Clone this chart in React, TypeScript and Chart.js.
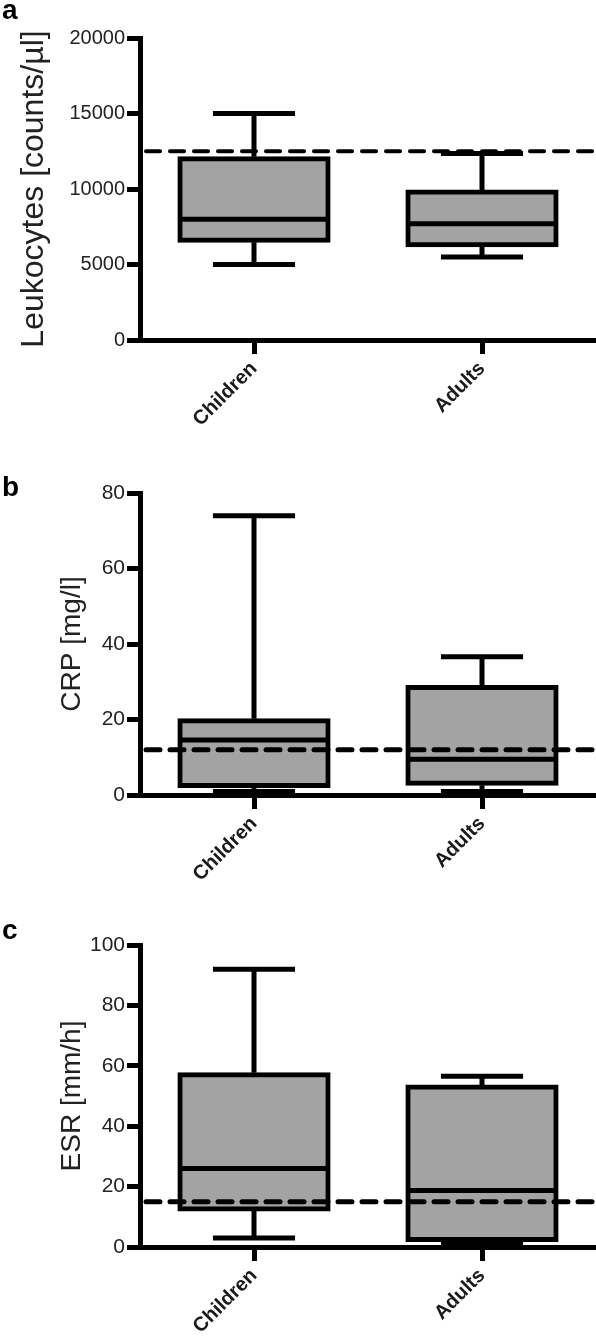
import React, { useEffect, useRef } from 'react';
import { Chart, registerables } from 'chart.js';

Chart.register(...registerables);

const CATEGORIES = ['Children', 'Adults'];

const LEUKO_MIN = [5000, 5500];
const LEUKO_Q1 = [6600, 6300];
const LEUKO_MEDIAN = [8000, 7700];
const LEUKO_Q3 = [12000, 9800];
const LEUKO_MAX = [15000, 12350];
const LEUKO_REF = 12500;
const LEUKO_TICKS = [0, 5000, 10000, 15000, 20000];

const CRP_MIN = [0.9, 0.9];
const CRP_Q1 = [2.5, 3.1];
const CRP_MEDIAN = [14.6, 9.5];
const CRP_Q3 = [19.7, 28.5];
const CRP_MAX = [74, 36.6];
const CRP_REF = 12;
const CRP_TICKS = [0, 20, 40, 60, 80];

const ESR_MIN = [3, 1];
const ESR_Q1 = [12.6, 2.5];
const ESR_MEDIAN = [26, 18.7];
const ESR_Q3 = [57, 53];
const ESR_MAX = [92, 56.5];
const ESR_REF = 15;
const ESR_TICKS = [0, 20, 40, 60, 80, 100];

const FONT = "'Liberation Sans', Arial, Helvetica, sans-serif";

type PanelProps = {
  letter: string;
  top: number;
  height: number;
  areaTop: number;
  title: string;
  titleSize: number;
  titleCenter: number;
  tickSize: number;
  ticks: number[];
  min: number[];
  q1: number[];
  median: number[];
  q3: number[];
  max: number[];
  refValue: number;
  refWidth: number;
};

function Panel(p: PanelProps) {
  const ref = useRef<HTMLCanvasElement | null>(null);
  useEffect(() => {
    if (!ref.current) return;
    const plotH = 302;
    const xAxisH = p.height - p.areaTop - plotH;
    const boxPlugin = {
      id: 'boxWhiskers' + p.letter,
      afterDatasetsDraw(chart: any) {
        const ctx = chart.ctx;
        const xs = chart.scales.x;
        const ys = chart.scales.y;
        const meta = chart.getDatasetMeta(0);
        ctx.save();
        ctx.strokeStyle = '#000';
        ctx.lineWidth = 5;
        ctx.lineCap = 'butt';
        CATEGORIES.forEach((_, i) => {
          const cx = xs.getPixelForValue(i);
          const bw = meta.data[i].width;
          const capHalf = bw * 0.277;
          const yMin = ys.getPixelForValue(p.min[i]);
          const yQ1 = ys.getPixelForValue(p.q1[i]);
          const yMed = ys.getPixelForValue(p.median[i]);
          const yQ3 = ys.getPixelForValue(p.q3[i]);
          const yMax = ys.getPixelForValue(p.max[i]);
          ctx.beginPath();
          ctx.moveTo(cx, yQ3 - 2);
          ctx.lineTo(cx, yMax);
          ctx.moveTo(cx, yQ1 + 2);
          ctx.lineTo(cx, yMin);
          ctx.moveTo(cx - capHalf, yMax);
          ctx.lineTo(cx + capHalf, yMax);
          ctx.moveTo(cx - capHalf, yMin);
          ctx.lineTo(cx + capHalf, yMin);
          ctx.moveTo(cx - bw / 2, yMed);
          ctx.lineTo(cx + bw / 2, yMed);
          ctx.stroke();
        });
        const area = chart.chartArea;
        const yRef = ys.getPixelForValue(p.refValue);
        ctx.lineWidth = p.refWidth;
        ctx.lineCap = 'round';
        ctx.setLineDash([14, 10]);
        ctx.beginPath();
        ctx.moveTo(area.left + 6, yRef);
        ctx.lineTo(area.right, yRef);
        ctx.stroke();
        ctx.restore();
      },
    };
    const chart = new Chart(ref.current, {
      type: 'bar',
      data: {
        labels: CATEGORIES,
        datasets: [
          {
            data: CATEGORIES.map((_, i) => [p.q1[i], p.q3[i]]) as any,
            backgroundColor: '#a3a3a3',
            borderColor: '#000',
            borderWidth: 5,
            borderSkipped: false,
            inflateAmount: 2.5,
            barPercentage: 0.65,
            categoryPercentage: 1,
          } as any,
        ],
      },
      options: {
        responsive: false,
        animation: false,
        devicePixelRatio: 1,
        events: [],
        layout: { padding: { top: p.areaTop, left: 0, right: 0, bottom: 0 } },
        plugins: { legend: { display: false }, tooltip: { enabled: false } },
        scales: {
          x: {
            type: 'category',
            offset: true,
            grid: {
              offset: false,
              display: true,
              drawOnChartArea: false,
              drawTicks: true,
              tickLength: 14,
              tickWidth: 5,
              tickColor: '#000',
              color: '#000',
            },
            border: { display: true, color: '#000', width: 5 },
            ticks: {
              autoSkip: false,
              maxRotation: 45,
              minRotation: 45,
              padding: 3,
              color: '#1a1a1a',
              font: { family: FONT, size: 20, weight: 'bold' },
            },
            afterFit: (s: any) => {
              s.height = xAxisH;
            },
          },
          y: {
            type: 'linear',
            min: 0,
            max: p.ticks[p.ticks.length - 1],
            afterBuildTicks: (s: any) => {
              s.ticks = p.ticks.map((v) => ({ value: v }));
            },
            grid: {
              display: true,
              drawOnChartArea: false,
              drawTicks: true,
              tickLength: 13,
              tickWidth: 5,
              tickColor: '#000',
              color: '#000',
            },
            border: { display: true, color: '#000', width: 5 },
            ticks: {
              padding: 2,
              color: '#222',
              font: { family: FONT, size: p.tickSize },
              callback: (v: any) => String(v),
            },
            title: {
              display: true,
              text: p.title,
              color: '#222',
              font: { family: FONT, size: p.titleSize, lineHeight: 1 },
              padding: { top: p.titleCenter - p.titleSize / 2, bottom: 0 },
            },
            afterFit: (s: any) => {
              s.width = 140;
            },
          },
        },
      } as any,
      plugins: [boxPlugin],
    });
    return () => chart.destroy();
  }, []);
  return (
    <div style={{ position: 'absolute', left: 0, top: p.top, width: 596, height: p.height }}>
      <canvas ref={ref} width={596} height={p.height} style={{ display: 'block' }} />
      <div
        style={{
          position: 'absolute',
          left: 2,
          top: -4,
          fontFamily: FONT,
          fontWeight: 'bold',
          fontSize: 28,
          lineHeight: '28px',
          color: '#000',
        }}
      >
        {p.letter}
      </div>
    </div>
  );
}

export default function App() {
  return (
    <div style={{ position: 'absolute', left: 0, top: 0, width: 596, height: 1342, background: '#fff', overflow: 'hidden' }}>
      <Panel
        letter="a"
        top={0}
        height={450}
        areaTop={38}
        title="Leukocytes [counts/µl]"
        titleSize={32}
        titleCenter={34}
        tickSize={20}
        ticks={LEUKO_TICKS}
        min={LEUKO_MIN}
        q1={LEUKO_Q1}
        median={LEUKO_MEDIAN}
        q3={LEUKO_Q3}
        max={LEUKO_MAX}
        refValue={LEUKO_REF}
        refWidth={4}
      />
      <Panel
        letter="b"
        top={477}
        height={423}
        areaTop={16}
        title="CRP [mg/l]"
        titleSize={28}
        titleCenter={72}
        tickSize={21}
        ticks={CRP_TICKS}
        min={CRP_MIN}
        q1={CRP_Q1}
        median={CRP_MEDIAN}
        q3={CRP_Q3}
        max={CRP_MAX}
        refValue={CRP_REF}
        refWidth={5}
      />
      <Panel
        letter="c"
        top={920}
        height={422}
        areaTop={25}
        title="ESR [mm/h]"
        titleSize={28}
        titleCenter={72}
        tickSize={21}
        ticks={ESR_TICKS}
        min={ESR_MIN}
        q1={ESR_Q1}
        median={ESR_MEDIAN}
        q3={ESR_Q3}
        max={ESR_MAX}
        refValue={ESR_REF}
        refWidth={5}
      />
    </div>
  );
}
